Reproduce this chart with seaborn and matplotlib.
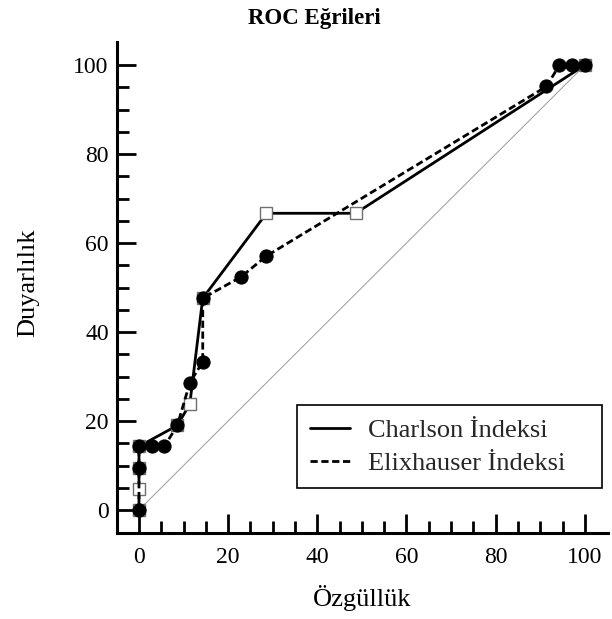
import numpy as np
import pandas as pd
import matplotlib
matplotlib.use("Agg")
import matplotlib.pyplot as plt
from matplotlib.lines import Line2D
import seaborn as sns

# Data
charlson_x = [0, 0, 0, 0, 8.6, 11.4, 14.3, 28.6, 48.6, 100]
charlson_y = [0, 4.8, 9.5, 14.3, 19.0, 23.8, 47.6, 66.7, 66.7, 100]
elix_x = [0, 0, 0, 2.9, 5.7, 8.6, 11.4, 14.3, 14.3, 22.9, 28.6, 91.4, 94.3, 97.1, 100]
elix_y = [0, 9.5, 14.3, 14.3, 14.3, 19.0, 28.6, 33.3, 47.6, 52.4, 57.1, 95.2, 100, 100, 100]
diag = [0, 100]
series_names = ["Charlson İndeksi", "Elixhauser İndeksi"]
major_ticks = [0, 20, 40, 60, 80, 100]
minor_ticks = [5, 10, 15, 25, 30, 35, 45, 50, 55, 65, 70, 75, 85, 90, 95]
title = "ROC Eğrileri"
xlabel = "Özgüllük"
ylabel = "Duyarlılık"

sns.set_theme(style="ticks")
plt.rcParams['font.family'] = ['Liberation Serif', 'DejaVu Serif']

fig = plt.figure(figsize=(6.12, 6.19), dpi=100)
ax = fig.add_axes([117/612, 1-533/619, (608-117)/612, (533-42)/619])

# reference diagonal
sns.lineplot(x=diag, y=diag, ax=ax, color="#9a9a9a", linewidth=0.7, zorder=1)

df_c = pd.DataFrame({"x": charlson_x, "y": charlson_y})
df_e = pd.DataFrame({"x": elix_x, "y": elix_y})

dash = (0, (2.6, 1.3))
sns.lineplot(data=df_c, x="x", y="y", ax=ax, sort=False, estimator=None,
             color="black", linewidth=2.0, marker="s", markersize=9,
             markerfacecolor="white", markeredgecolor="#6f6f6f",
             markeredgewidth=1.0, zorder=3)
sns.lineplot(data=df_e, x="x", y="y", ax=ax, sort=False, estimator=None,
             color="black", linewidth=2.0, linestyle=dash,
             marker="o", markersize=9.5, markerfacecolor="black",
             markeredgecolor="black", zorder=4)

ax.set_xlim(-4.93, 105.2)
ax.set_ylim(-5.17, 105.2)
ax.set_xticks(major_ticks)
ax.set_yticks(major_ticks)
ax.set_xticks(minor_ticks, minor=True)
ax.set_yticks(minor_ticks, minor=True)

for s in ["top", "right"]:
    ax.spines[s].set_visible(False)
for s in ["left", "bottom"]:
    ax.spines[s].set_linewidth(2.2)
    ax.spines[s].set_color("black")

ax.tick_params(which="major", direction="in", length=14, width=2.0,
               labelsize=17, colors="black")
ax.tick_params(which="minor", direction="in", length=8.5, width=2.0, colors="black")
ax.tick_params(axis="y", which="major", pad=6)
ax.tick_params(axis="x", which="major", pad=10)
ax.grid(False)

ax.set_xlabel(xlabel, fontsize=19, labelpad=12, color="black")
ax.set_ylabel(ylabel, fontsize=19, color="black")
ax.yaxis.set_label_coords(-(117-39)/491, (533-282.5)/491)

fig.suptitle(title, x=314/612, y=1-8/619, fontsize=16.5, fontweight="bold",
             va="top", color="black")

handles = [Line2D([], [], color="black", linewidth=2.0),
           Line2D([], [], color="black", linewidth=2.0, linestyle=dash)]
leg = ax.legend(handles, series_names, loc="lower left", mode="expand",
                bbox_to_anchor=((297-117)/491, (533-488)/491, 305/491, 85/491),
                borderaxespad=0, fontsize=19, frameon=True, fancybox=False,
                handlelength=1.5, handletextpad=0.7, labelspacing=0.35,
                borderpad=0.5)
leg.get_frame().set_edgecolor("black")
leg.get_frame().set_linewidth(1.2)
leg.get_frame().set_alpha(1)

fig.savefig("out.png", dpi=100)
